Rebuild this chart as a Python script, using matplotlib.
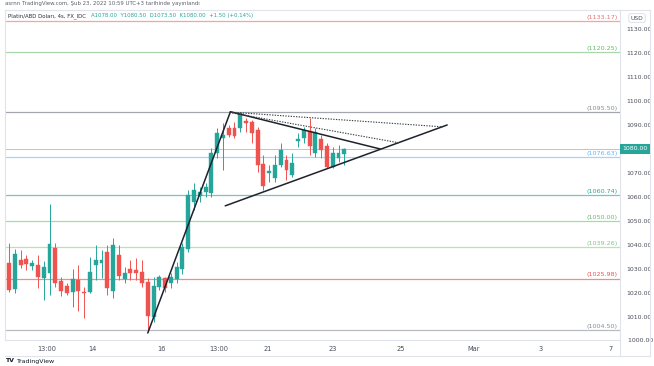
import numpy as np
import matplotlib.pyplot as plt

# Platinum / USD, 4h candles (oldest first)
opens = [1032.5, 1021.7, 1033.8, 1034.2, 1031.3, 1031.7, 1026.3, 1028.3, 1038.8, 1025.0,
         1022.9, 1020.4, 1025.4, 1020.4, 1020.4, 1031.7, 1032.5, 1037.0, 1021.0, 1035.8,
         1025.8, 1030.0, 1029.6, 1028.8, 1024.6, 1010.0, 1022.5, 1026.3, 1024.2, 1026.0,
         1030.0, 1038.3, 1058.0, 1060.4, 1062.0, 1061.7, 1078.3, 1084.6, 1088.8, 1088.8,
         1088.8, 1091.7, 1091.3, 1087.9, 1073.8, 1070.0, 1068.0, 1073.3, 1075.4, 1069.2,
         1083.3, 1084.6, 1087.5, 1078.3, 1084.2, 1081.3, 1072.5, 1076.3, 1078.0]
highs = [1040.8, 1038.3, 1037.9, 1035.8, 1033.8, 1035.8, 1033.3, 1057.1, 1040.8, 1026.7,
         1024.2, 1030.0, 1031.7, 1022.5, 1035.0, 1040.0, 1037.9, 1040.0, 1043.0, 1040.0,
         1030.8, 1033.8, 1034.6, 1033.8, 1026.3, 1026.7, 1027.5, 1026.7, 1028.3, 1033.0,
         1041.0, 1062.9, 1066.0, 1064.0, 1066.0, 1080.4, 1088.8, 1090.8, 1090.0, 1091.3,
         1095.5, 1093.0, 1092.0, 1089.0, 1077.5, 1073.3, 1077.5, 1082.5, 1077.5, 1078.3,
         1086.7, 1089.0, 1093.0, 1088.8, 1085.8, 1082.5, 1080.8, 1081.7, 1080.5]
lows = [1020.4, 1020.0, 1030.4, 1029.6, 1029.6, 1022.0, 1017.0, 1019.2, 1022.5, 1018.8,
        1019.2, 1014.2, 1012.5, 1009.6, 1020.0, 1025.4, 1026.3, 1019.0, 1018.0, 1025.4,
        1024.2, 1025.4, 1025.4, 1022.5, 1004.5, 1008.0, 1021.3, 1020.4, 1022.0, 1024.0,
        1028.0, 1037.0, 1054.6, 1058.0, 1060.0, 1060.0, 1076.3, 1071.3, 1085.0, 1084.6,
        1087.0, 1087.0, 1082.5, 1070.4, 1063.0, 1066.3, 1066.3, 1072.5, 1067.0, 1068.3,
        1080.8, 1082.5, 1077.5, 1076.7, 1076.3, 1072.0, 1072.0, 1074.6, 1073.5]
closes = [1021.3, 1036.3, 1031.7, 1032.1, 1032.5, 1026.7, 1030.8, 1040.4, 1024.2, 1020.8,
          1020.0, 1025.8, 1020.8, 1020.0, 1028.8, 1033.8, 1033.8, 1022.0, 1040.0, 1027.0,
          1028.3, 1028.3, 1028.3, 1024.2, 1010.4, 1023.0, 1026.7, 1022.0, 1026.7, 1031.0,
          1039.0, 1060.8, 1063.0, 1062.0, 1064.0, 1078.3, 1086.7, 1085.8, 1085.8, 1085.4,
          1095.0, 1090.8, 1086.7, 1073.3, 1064.6, 1070.8, 1073.3, 1079.6, 1071.3, 1074.2,
          1084.2, 1087.9, 1081.3, 1087.0, 1079.6, 1072.5, 1078.3, 1078.3, 1080.0]

# horizontal levels drawn on the chart
levels = [1133.17, 1120.25, 1095.50, 1076.63, 1060.74, 1050.00, 1039.26, 1025.98, 1004.50]
level_line_colors = ['#f5a3a7', '#a8d8aa', '#a3a6ae', '#a9d3f0', '#7fc3b8',
                     '#a8d8aa', '#b9e0bb', '#f28b8f', '#b8bbc2']
level_text_colors = ['#e57373', '#66bb6a', '#8a8d96', '#64b5f6', '#26a69a',
                     '#66bb6a', '#81c784', '#ef5350', '#8a8d96']

# trend lines (x in candle index, y in price)
trend_solid = [((24.0, 1003.3), (38.3, 1095.5)),
               ((38.3, 1095.5), (64.2, 1080.0)),
               ((37.4, 1056.3), (75.8, 1090.0))]
trend_dotted = [((38.6, 1095.3), (75.1, 1089.2)),
                ((38.6, 1095.0), (67.6, 1082.5))]

# time axis labels
time_pos = [6.5, 14.4, 26.4, 36.3, 44.8, 56.0, 67.8, 80.3, 92.0, 104.0]
time_labels = ['13:00', '14', '16', '13:00', '21', '23', '25', 'Mar', '3', '7']

price_ticks = [1010, 1020, 1030, 1040, 1050, 1060, 1070, 1090, 1100, 1110, 1120, 1130]
last_price = 1080.00

up_col, down_col = '#26a69a', '#ef5350'

fig = plt.figure(figsize=(6.54, 3.66), dpi=100)
W, H = 654, 366
ax = fig.add_axes([5 / W, 1 - 340 / H, 615 / W, 330 / H])
ax.set_xlim(-0.7, 105.7)
ax.set_ylim(1000.4, 1137.9)

for spine in ax.spines.values():
    spine.set_color('#e0e3eb')
    spine.set_linewidth(0.8)

# levels
for lv, lc, tc in zip(levels, level_line_colors, level_text_colors):
    ax.axhline(lv, color=lc, lw=0.9, zorder=1)
    ax.text(105.3, lv + 0.5, '({:.2f})'.format(lv), color=tc, fontsize=4.6,
            ha='right', va='bottom', zorder=2)

# last price line
ax.axhline(last_price, color='#26a69a', lw=0.6, alpha=0.55, zorder=1)

# candles
x = np.arange(len(opens))
for i in x:
    o, h, l, c = opens[i], highs[i], lows[i], closes[i]
    col = up_col if c >= o else down_col
    ax.vlines(i, l, h, color=col, lw=0.7, zorder=3)
    lo, hi = min(o, c), max(o, c)
    if hi - lo < 0.4:
        hi = lo + 0.4
    ax.bar(i, hi - lo, bottom=lo, width=0.68, color=col, edgecolor=col, lw=0.3, zorder=4)

# trend lines
for (x0, y0), (x1, y1) in trend_solid:
    ax.plot([x0, x1], [y0, y1], color='#1e222d', lw=1.1, zorder=5, solid_capstyle='round')
for (x0, y0), (x1, y1) in trend_dotted:
    ax.plot([x0, x1], [y0, y1], color='#3a3d45', lw=0.8, ls=(0, (1.2, 1.2)), zorder=5)

# right price scale
ax.yaxis.tick_right()
ax.set_yticks(price_ticks)
ax.set_yticklabels(['{:.2f}'.format(p) for p in price_ticks])
ax.tick_params(axis='y', length=0, pad=4.5, labelsize=4.5, labelcolor='#4a4e59')
ax.text(1.0, 1000.0, '    1000.00', transform=ax.get_yaxis_transform(), fontsize=4.5,
        color='#4a4e59', ha='left', va='center', clip_on=False)

# time scale
ax.set_xticks(time_pos)
ax.set_xticklabels(time_labels)
ax.tick_params(axis='x', length=0, pad=4, labelsize=4.8, labelcolor='#4a4e59')
ax.grid(False)

# price badge
fig.text(635 / W, 1 - 149 / H, '1080.00', fontsize=4.5, color='white', ha='center',
         va='center', zorder=10,
         bbox=dict(boxstyle='square,pad=0.4', fc='#26a69a', ec='none'))

# currency tag
fig.text(637 / W, 1 - 18 / H, 'USD', fontsize=4.3, color='#4a4e59', ha='center', va='center',
         bbox=dict(boxstyle='round,pad=0.3', fc='white', ec='#d1d4dc', lw=0.5))

# frame lines of the time / price scale area
fig.add_artist(plt.Line2D([5 / W, 650 / W], [1 - 356 / H, 1 - 356 / H], color='#e0e3eb', lw=0.8))
fig.add_artist(plt.Line2D([650 / W, 650 / W], [1 - 10 / H, 1 - 356 / H], color='#e0e3eb', lw=0.8))
fig.add_artist(plt.Line2D([620 / W, 650 / W], [1 - 10 / H, 1 - 10 / H], color='#e0e3eb', lw=0.8))
fig.add_artist(plt.Line2D([620 / W, 620 / W], [1 - 340 / H, 1 - 356 / H], color='#e0e3eb', lw=0.8))

# header
fig.text(5 / W, 1 - 4 / H, 'asrnn TradingView.com, Şub 23, 2022 10:59 UTC+3 tarihinde yayınlandı',
         fontsize=3.9, color='#5d606b', ha='left', va='center')
fig.text(8 / W, 1 - 16 / H, 'Platin/ABD Doları, 4s, FX_IDC', fontsize=3.9, color='#2a2e39',
         ha='left', va='center')
fig.text(91 / W, 1 - 16 / H, 'A1078.00  Y1080.50  D1073.50  K1080.00  +1.50 (+0.14%)',
         fontsize=3.9, color='#26a69a', ha='left', va='center')

# footer logo
fig.text(5 / W, 1 - 361 / H, 'TV', fontsize=4.5, color='#131722', ha='left', va='center',
         fontweight='bold')
fig.text(17 / W, 1 - 361 / H, 'TradingView', fontsize=4.5, color='#131722', ha='left', va='center')

fig.savefig('out.png', dpi=100)
